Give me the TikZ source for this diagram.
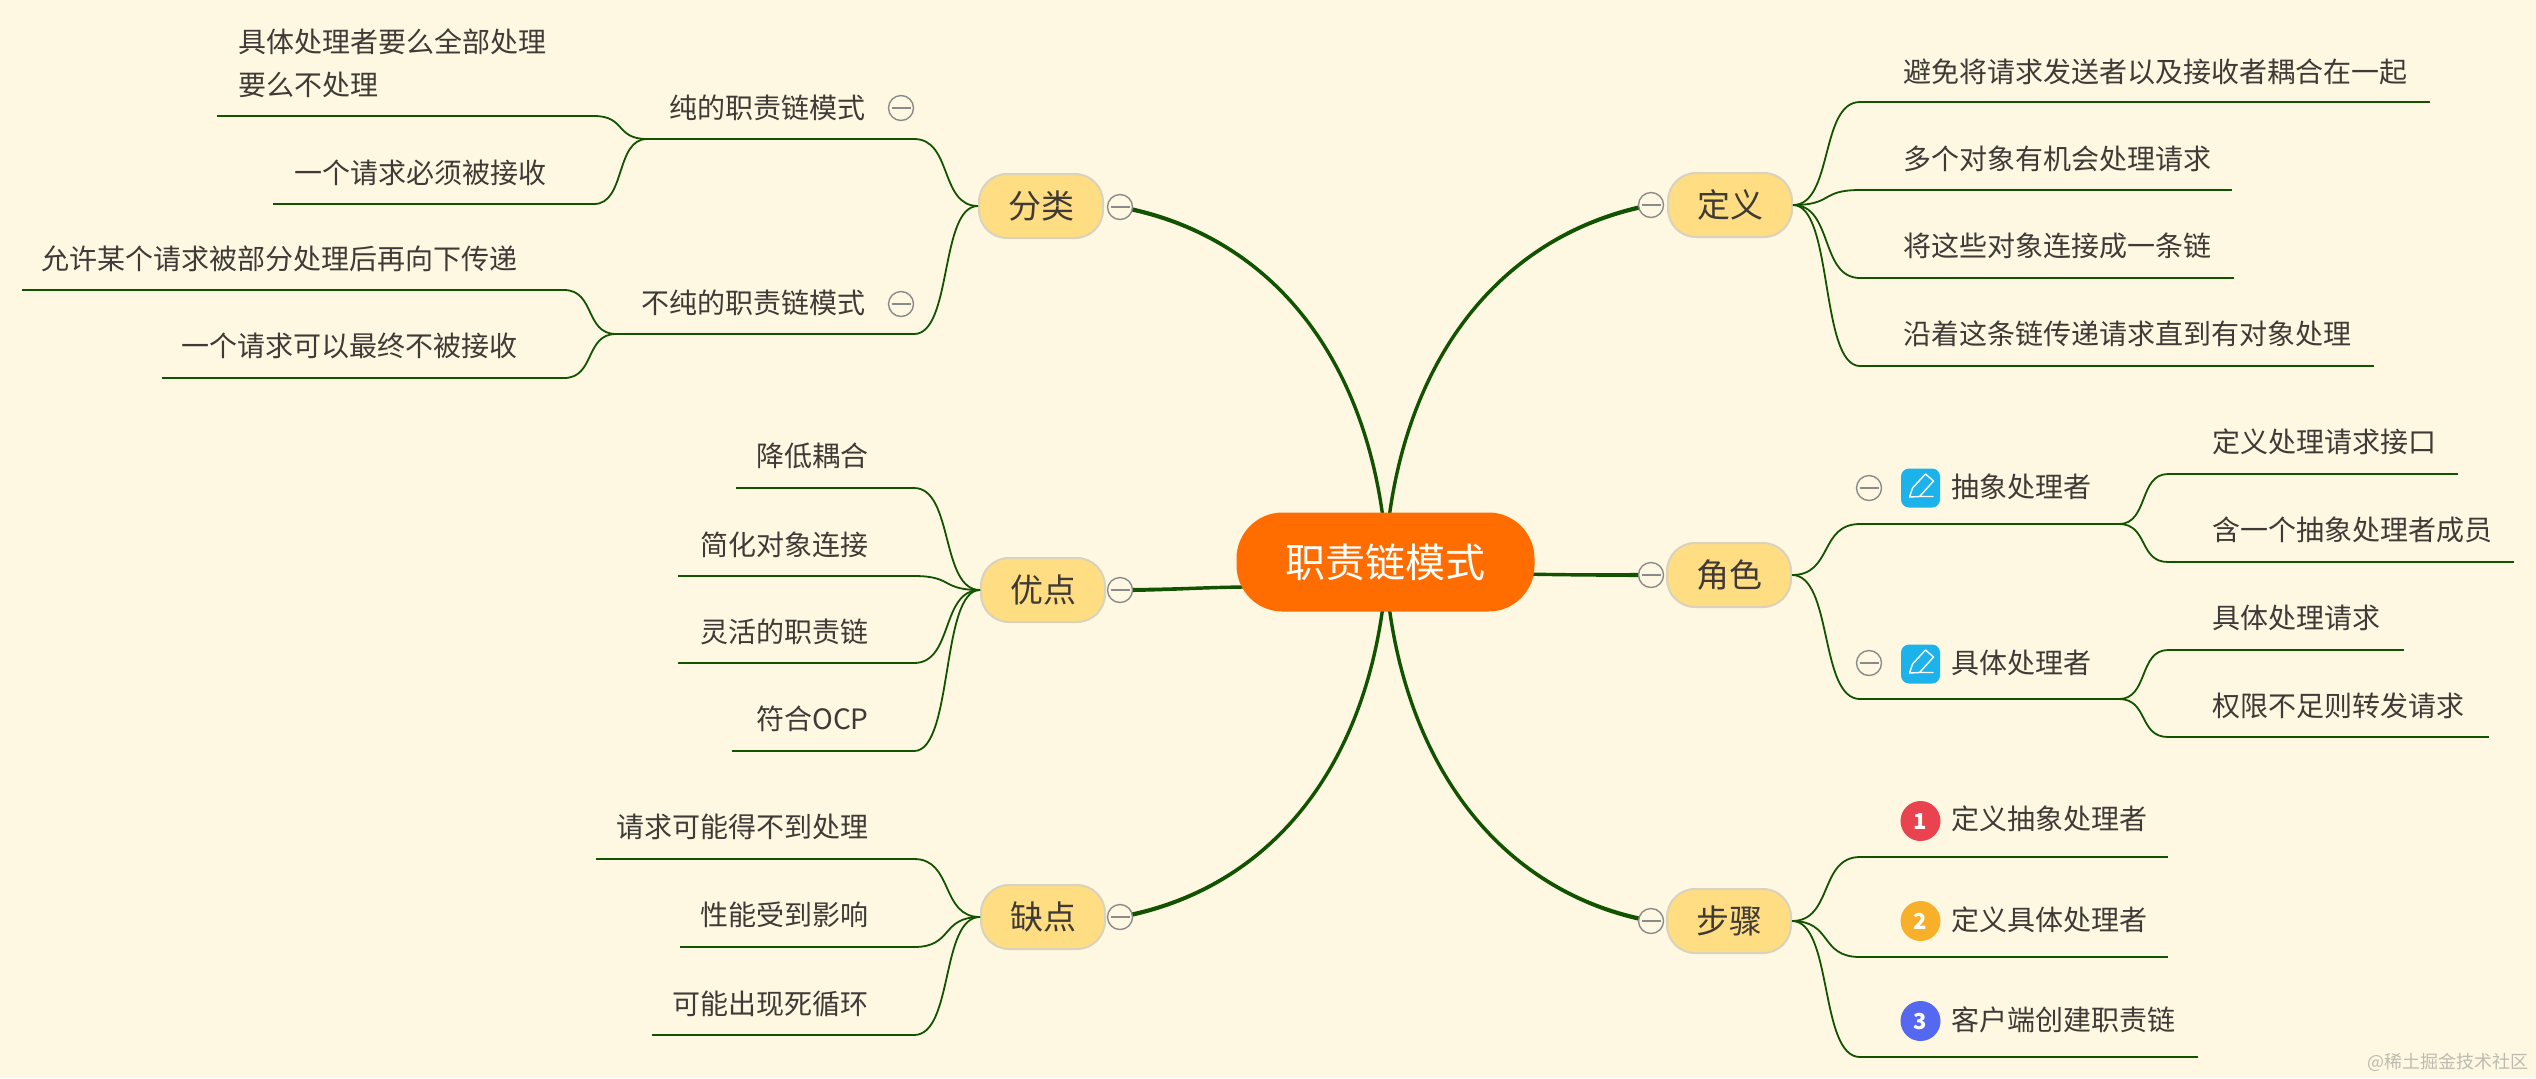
\documentclass[tikz,border=0pt]{standalone}
\usepackage{fontspec}
\setmainfont{Noto Sans CJK SC}
\usetikzlibrary{calc,backgrounds}
\definecolor{paper}{HTML}{FEF8E3}
\definecolor{ink}{HTML}{3F3A36}
\definecolor{vine}{HTML}{115300}
\definecolor{topicfill}{HTML}{FFDD82}
\definecolor{topicline}{HTML}{D8D2BE}
\definecolor{rootfill}{HTML}{FF6D00}
\definecolor{foldline}{HTML}{8A8A8A}
\definecolor{iconblue}{HTML}{1CB2EA}
\definecolor{stepA}{HTML}{E8434E}
\definecolor{stepB}{HTML}{F8B02A}
\definecolor{stepC}{HTML}{5468F0}
\definecolor{mark}{HTML}{BDBBB0}
\tikzset{
    root/.style={rectangle, rounded corners=23pt, fill=rootfill, text=white, minimum width=149pt, minimum height=49.5pt, inner sep=0pt, font=\fontsize{20}{24}\selectfont},
    topic/.style={rectangle, rounded corners=14pt, fill=topicfill, draw=topicline, line width=1pt, text=ink, minimum width=62pt, minimum height=32pt, inner sep=0pt, font=\fontsize{16.5}{20}\selectfont},
    leaf/.style={inner sep=0pt, text=ink, align=left, yshift=-0.5pt, font=\fontsize{14}{21.5}\selectfont},
    fold/.style={circle, draw=foldline, fill=paper, line width=0.7pt, minimum size=12.5pt, inner sep=0pt,
        path picture={\draw[foldline, line width=0.8pt] ($(path picture bounding box.west)+(1.5pt,0)$) -- ($(path picture bounding box.east)+(-1.5pt,0)$);}},
    badge/.style={circle, minimum size=20pt, inner sep=0pt, text=white, font=\fontsize{11}{13}\bfseries\selectfont},
    notebox/.style={rectangle, rounded corners=4pt, fill=iconblue, minimum size=19.5pt, inner sep=0pt},
    rulevine/.style={vine, line width=1.2pt},
    twig/.style={vine, line width=0.9pt, to path={.. controls ($(\tikztostart)!0.6!(\tikztostart -| \tikztotarget)$) and ($(\tikztotarget)!0.6!(\tikztotarget -| \tikztostart)$) .. (\tikztotarget)}}
}
% thick branch, a little wider at its outer end
\newcommand{\bough}[4]{\filldraw[vine, line width=1.7pt, line join=round] (#1) .. controls (#2) and (#3) .. ($(#4)+(0,-0.5)$) -- ($(#4)+(0,0.5)$) .. controls (#3) and (#2) .. (#1) -- cycle;}
\begin{document}
\begin{tikzpicture}[x=0.5pt, y=-0.5pt]
    \def\leftx{914}
    \def\rightx{1860}
    \begin{scope}[on background layer]
        \fill[paper] (0,0) rectangle (2536,1078);
    \end{scope}
    \useasboundingbox (0,0) rectangle (2536,1078);
    % centre and main topics
    \node[root] (center) at (1385.5,562) {职责链模式};
    \foreach \name/\tx/\ty/\txt in {fenlei/1041/206/分类, youdian/1043/590/优点, quedian/1043/917/缺点, dingyi/1730/205/定义, juese/1729/575/角色, buzhou/1729/921/步骤}
        \node[topic] (\name) at (\tx,\ty) {\txt};
    \foreach \name/\tx/\ty in {foldFenlei/1120/207, foldYoudian/1120/590, foldQuedian/1120/917, foldDingyi/1651/205, foldJuese/1651/575, foldBuzhou/1651/921}
        \node[fold] (\name) at (\tx,\ty) {};
    \begin{scope}[on background layer]
        \bough{$(center.north)+(3.5,6)$}{1412,345}{1510,232}{foldDingyi.center}
        \bough{$(center.north)+(-2.5,6)$}{1360,345}{1262,233}{foldFenlei.center}
        \bough{$(center.south)+(3.5,-6)$}{1412,779}{1510,895}{foldBuzhou.center}
        \bough{$(center.south)+(-2.5,-6)$}{1360,779}{1262,891}{foldQuedian.center}
        \bough{$(center.west)+(12,25)$}{1210,587}{1170,590}{foldYoudian.center}
        \bough{$(center.east)+(-12,12)$}{1570,575}{1600,575}{foldJuese.center}
    \end{scope}
    % second level, left and right
    \foreach \name/\parent/\side/\tx/\ty/\ly/\xa/\xb/\txt in {
        chun/fenlei.west/east/866/107/139/\leftx/647/纯的职责链模式,
        buchun/fenlei.west/east/866/302/334/\leftx/616/不纯的职责链模式,
        jiangdi/youdian.west/east/869/455/488/\leftx/736/降低耦合,
        jianhua/youdian.west/east/869/544/576/\leftx/678/简化对象连接,
        linghuo/youdian.west/east/869/631/663/\leftx/678/灵活的职责链,
        fuhe/youdian.west/east/869/718/751/\leftx/732/符合OCP,
        budao/quedian.west/east/869/826/859/\leftx/596/请求可能得不到处理,
        xingneng/quedian.west/east/869/914/947/\leftx/680/性能受到影响,
        sixunhuan/quedian.west/east/869/1003/1035/\leftx/652/可能出现死循环,
        bimian/dingyi.east/west/1903/71/102/\rightx/2430/避免将请求发送者以及接收者耦合在一起,
        duoge/dingyi.east/west/1903/158/190/\rightx/2232/多个对象有机会处理请求,
        lianjie/dingyi.east/west/1903/245/278/\rightx/2234/将这些对象连接成一条链,
        chuandi/dingyi.east/west/1903/333/366/\rightx/2374/沿着这条链传递请求直到有对象处理,
        chouxiang/juese.east/west/1951/486/524/\rightx/2119/抽象处理者,
        juti/juese.east/west/1951/662/699/\rightx/2119/具体处理者,
        stepone/buzhou.east/west/1951/818/857/\rightx/2168/定义抽象处理者,
        steptwo/buzhou.east/west/1951/919/957/\rightx/2168/定义具体处理者,
        stepthree/buzhou.east/west/1951/1019/1057/\rightx/2198/客户端创建职责链}{
        \node[leaf, anchor=\side] (\name) at (\tx,\ty) {\txt};
        \coordinate (\name In) at (\xa,\ly);
        \coordinate (\name Out) at (\xb,\ly);
        \draw[twig] (\parent) to (\name In);
        \draw[rulevine] (\name In) -- (\name Out);
    }
    % third level
    \foreach \name/\parent/\side/\tx/\ty/\ly/\xa/\xb/\txt in {
        quanbu/chunOut/west/238/62/116/594/217/{具体处理者要么全部处理\\要么不处理},
        bixu/chunOut/east/547/172/204/594/273/一个请求必须被接收,
        bufen/buchunOut/east/518/258/290/564/22/允许某个请求被部分处理后再向下传递,
        zuizhong/buchunOut/east/518/345/378/564/162/一个请求可以最终不被接收,
        jiekou/chouxiangOut/west/2212/441/474/2168/2458/定义处理请求接口,
        chengyuan/chouxiangOut/west/2212/529/562/2168/2514/含一个抽象处理者成员,
        qingqiu/jutiOut/west/2212/617/650/2168/2404/具体处理请求,
        zhuanfa/jutiOut/west/2212/705/737/2168/2489/权限不足则转发请求}{
        \node[leaf, anchor=\side] (\name) at (\tx,\ty) {\txt};
        \coordinate (\name In) at (\xa,\ly);
        \coordinate (\name Out) at (\xb,\ly);
        \draw[twig] (\parent) to (\name In);
        \draw[rulevine] (\name In) -- (\name Out);
    }
    % fold marks
    \foreach \name/\tx/\ty in {foldChun/901/108, foldBuchun/901/304, foldChouxiang/1869/488, foldJuti/1869/663}
        \node[fold] (\name) at (\tx,\ty) {};
    % note icons
    \foreach \name/\ty in {noteA/488, noteB/664} {
        \node[notebox] (\name) at (1920.5,\ty) {};
        \draw[white, line width=0.7pt, line join=round, shift={(\name)}] (-11,9) -- (-8,0) -- (5,-14) -- (13,-7) -- (-1,8.5) -- cycle (-1,8.5) -- (13,8.5);
    }
    % numbered steps
    \foreach \name/\ty/\col/\num in {badgeA/821/stepA/1, badgeB/921/stepB/2, badgeC/1021/stepC/3}
        \node[badge, fill=\col] (\name) at (1920.5,\ty) {\num};
    \node[anchor=east, inner sep=0pt, text=mark, font=\fontsize{9}{11}\selectfont] (watermark) at (2529,1062) {@稀土掘金技术社区};
\end{tikzpicture}
\end{document}
